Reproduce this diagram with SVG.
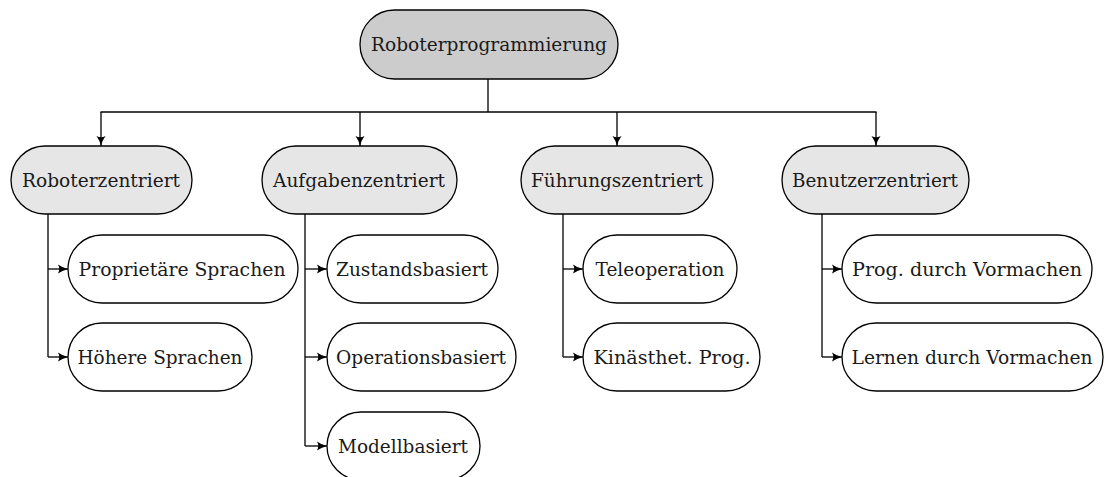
<svg xmlns="http://www.w3.org/2000/svg" width="1105" height="477" viewBox="0 0 1105 477">
  <style>
    .box { stroke: #000; stroke-width: 1.3; }
    .root { fill: #cccccc; }
    .cat { fill: #e6e6e6; }
    .leaf { fill: #ffffff; }
    text { font-family: 'DejaVu Serif', 'Liberation Serif', serif; font-size: 19px; fill: #1a1a1a; text-anchor: middle; }
    .wire { fill: none; stroke: #000; stroke-width: 1.3; }
  </style>
  <defs>
    <marker id="tip" markerUnits="userSpaceOnUse" markerWidth="12" markerHeight="12" viewBox="0 0 12 12" refX="11" refY="6" orient="auto">
      <path d="M1,1.5 Q5,4.5 11,6 Q5,7.5 1,10.5 Q3.5,6 1,1.5 Z" fill="#000"/>
    </marker>
  </defs>

  <rect width="1105" height="477" fill="#fff"/>

  <!-- connectors -->
  <g id="connectors">
    <path class="wire" d="M488,79 V112"/>
    <path class="wire" d="M100.5,112 H876.5"/>
    <path class="wire" d="M101,112 V146" marker-end="url(#tip)"/>
    <path class="wire" d="M360,112 V146" marker-end="url(#tip)"/>
    <path class="wire" d="M617,112 V146" marker-end="url(#tip)"/>
    <path class="wire" d="M876,112 V146" marker-end="url(#tip)"/>

    <path class="wire" d="M48,214 V357"/>
    <path class="wire" d="M48,269 H68" marker-end="url(#tip)"/>
    <path class="wire" d="M48,357 H68" marker-end="url(#tip)"/>

    <path class="wire" d="M305,214 V446"/>
    <path class="wire" d="M305,269 H327" marker-end="url(#tip)"/>
    <path class="wire" d="M305,357 H327" marker-end="url(#tip)"/>
    <path class="wire" d="M305,446 H327" marker-end="url(#tip)"/>

    <path class="wire" d="M563,214 V357"/>
    <path class="wire" d="M563,269 H583" marker-end="url(#tip)"/>
    <path class="wire" d="M563,357 H583" marker-end="url(#tip)"/>

    <path class="wire" d="M822,214 V357"/>
    <path class="wire" d="M822,269 H842" marker-end="url(#tip)"/>
    <path class="wire" d="M822,357 H842" marker-end="url(#tip)"/>
  </g>

  <!-- root -->
  <g id="n-root">
    <rect class="box root" x="360" y="10" width="258" height="69" rx="34.5"/>
    <text x="489" y="51" textLength="236" lengthAdjust="spacingAndGlyphs">Roboterprogrammierung</text>
  </g>

  <!-- categories -->
  <g id="n-roboter">
    <rect class="box cat" x="11" y="146" width="181" height="68" rx="34"/>
    <text x="101" y="187" textLength="158" lengthAdjust="spacingAndGlyphs">Roboterzentriert</text>
  </g>
  <g id="n-aufgaben">
    <rect class="box cat" x="262" y="146" width="195" height="68" rx="34"/>
    <text x="359" y="187" textLength="172" lengthAdjust="spacingAndGlyphs">Aufgabenzentriert</text>
  </g>
  <g id="n-fuehrung">
    <rect class="box cat" x="521" y="146" width="192" height="68" rx="34"/>
    <text x="617" y="187" textLength="172" lengthAdjust="spacingAndGlyphs">Führungszentriert</text>
  </g>
  <g id="n-benutzer">
    <rect class="box cat" x="782" y="146" width="187" height="68" rx="34"/>
    <text x="875" y="187" textLength="166" lengthAdjust="spacingAndGlyphs">Benutzerzentriert</text>
  </g>

  <!-- leaves -->
  <g id="n-proprietaer">
    <rect class="box leaf" x="68" y="235" width="230" height="68" rx="34"/>
    <text x="182" y="276" textLength="207" lengthAdjust="spacingAndGlyphs">Proprietäre Sprachen</text>
  </g>
  <g id="n-hoehere">
    <rect class="box leaf" x="68" y="323" width="184" height="68" rx="34"/>
    <text x="160" y="364" textLength="165" lengthAdjust="spacingAndGlyphs">Höhere Sprachen</text>
  </g>
  <g id="n-zustand">
    <rect class="box leaf" x="327" y="235" width="171" height="68" rx="34"/>
    <text x="412" y="276" textLength="152" lengthAdjust="spacingAndGlyphs">Zustandsbasiert</text>
  </g>
  <g id="n-operation">
    <rect class="box leaf" x="327" y="323" width="189" height="68" rx="34"/>
    <text x="421" y="364" textLength="170" lengthAdjust="spacingAndGlyphs">Operationsbasiert</text>
  </g>
  <g id="n-modell">
    <rect class="box leaf" x="327" y="412" width="153" height="68" rx="34"/>
    <text x="403" y="453" textLength="130" lengthAdjust="spacingAndGlyphs">Modellbasiert</text>
  </g>
  <g id="n-tele">
    <rect class="box leaf" x="583" y="235" width="154" height="68" rx="34"/>
    <text x="660" y="276" textLength="129" lengthAdjust="spacingAndGlyphs">Teleoperation</text>
  </g>
  <g id="n-kinaesthet">
    <rect class="box leaf" x="583" y="323" width="177" height="68" rx="34"/>
    <text x="672" y="364" textLength="157" lengthAdjust="spacingAndGlyphs">Kinästhet. Prog.</text>
  </g>
  <g id="n-prog-vormachen">
    <rect class="box leaf" x="842" y="235" width="250" height="68" rx="34"/>
    <text x="967" y="276" textLength="230" lengthAdjust="spacingAndGlyphs">Prog. durch Vormachen</text>
  </g>
  <g id="n-lernen-vormachen">
    <rect class="box leaf" x="842" y="323" width="261" height="68" rx="34"/>
    <text x="972" y="364" textLength="241" lengthAdjust="spacingAndGlyphs">Lernen durch Vormachen</text>
  </g>
</svg>
